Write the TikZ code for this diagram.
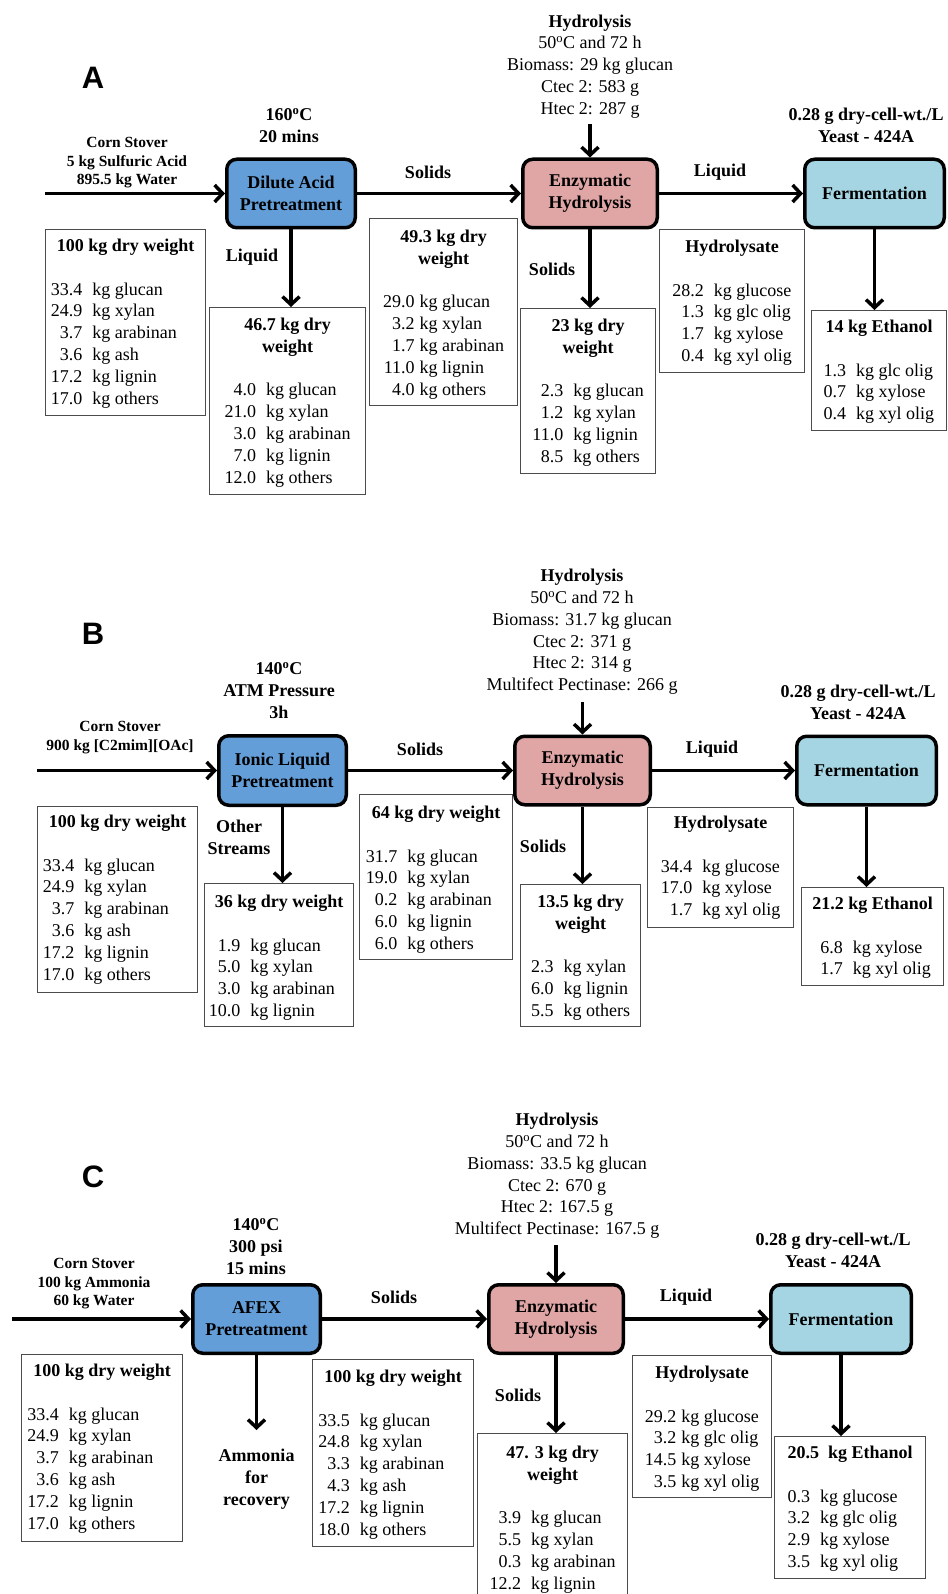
\documentclass[tikz,border=0pt]{standalone}
\usepackage{fontspec}
\setmainfont{Liberation Serif}
\setsansfont{Liberation Sans}
\usetikzlibrary{arrows.meta}
\newcommand{\myfA}{\fontsize{18pt}{21.8pt}\selectfont}
\newcommand{\myfB}{\fontsize{15.5pt}{18.5pt}\selectfont}
\newcommand{\itab}[2]{\begin{tabular}{@{}r@{\hspace{#1}}l@{}}#2\end{tabular}}
\newcommand{\hd}[1]{\multicolumn{2}{c}{\bfseries #1}}
\definecolor{dablue}{HTML}{639ED9}
\definecolor{enzpink}{HTML}{E0A5A5}
\definecolor{ferblue}{HTML}{A5D5E3}
\tikzset{
  pbox/.style={draw=black, line width=3.5pt, rounded corners=10pt, font=\bfseries\myfA, align=center, inner sep=0pt},
  panel/.style={font=\sffamily\bfseries\fontsize{31pt}{31pt}\selectfont, inner sep=0pt},
  cond/.style={font=\bfseries\myfA, align=center, inner sep=0pt, anchor=north},
  feed/.style={font=\bfseries\myfB, align=center, inner sep=0pt, anchor=north},
  hydro/.style={font=\myfA, align=center, inner sep=0pt, anchor=north},
  flow/.style={font=\bfseries\myfA, align=center, inner sep=0pt},
  ibox/.style={draw=black!70, line width=1.2pt, anchor=north west, inner sep=0pt},
  itext/.style={font=\myfA, anchor=north, inner sep=0pt},
  arr/.style={line width=3.5pt, -{Straight Barb[length=8pt,width=17pt]}}
}
\begin{document}
\begin{tikzpicture}[x=1pt,y=-1pt]
\useasboundingbox (0,0) rectangle (947,1594);
% ================= PANEL A =================
\node[panel] (labA) at (93,78) {A};
\node[cond] (condA) at (289,108) {160\textsuperscript{o}C\\20 mins};
\node[feed] (feedA) at (127,137.5) {Corn Stover\\5 kg Sulfuric Acid\\895.5 kg Water};
\node[hydro] (hydA) at (590,14.5) {\textbf{Hydrolysis}\\50\textsuperscript{o}C and 72 h\\Biomass: 29 kg glucan\\Ctec 2: 583 g\\Htec 2: 287 g};
\node[cond] (yeastA) at (866,108) {0.28 g dry-cell-wt./L\\Yeast - 424A};

\node[pbox, fill=dablue, minimum width=128.5pt, minimum height=68.5pt] (dilA) at (291,193.5) {Dilute Acid\\Pretreatment};
\node[pbox, fill=enzpink, minimum width=134.5pt, minimum height=68.5pt] (enzA) at (590,193.5) {Enzymatic\\Hydrolysis};
\node[pbox, fill=ferblue, minimum width=139.5pt, minimum height=68.5pt] (ferA) at (874.5,193.5) {Fermentation};

\coordinate (inA) at (45,193.5);
\coordinate (topA) at (590,124);
\draw[arr] (inA) -- (dilA.west);
\draw[arr] (dilA.east) -- (enzA.west);
\draw[arr] (enzA.east) -- (ferA.west);
\draw[arr] (topA) -- (enzA.north);

\node[flow] (solA) at (428,172) {Solids};
\node[flow] (liqA) at (720,172) {Liquid};
\node[flow] (liqA2) at (252,257) {Liquid};
\node[flow] (solA2) at (552,269) {Solids};

\node[ibox, minimum width=160pt, minimum height=186pt] (a-in) at (45,229) {};
\node[itext] (a-in-t) at ([yshift=-7pt]a-in.north) {\itab{10pt}{\hd{100 kg dry weight}\\ \\ 33.4 & kg glucan\\ 24.9 & kg xylan\\ 3.7 & kg arabinan\\ 3.6 & kg ash\\ 17.2 & kg lignin\\ 17.0 & kg others}};

\node[ibox, minimum width=156pt, minimum height=187pt] (a-liq) at (209,307) {};
\node[itext] (a-liq-t) at ([yshift=-8pt]a-liq.north) {\itab{10pt}{\hd{46.7 kg dry}\\ \hd{weight}\\ \\ 4.0 & kg glucan\\ 21.0 & kg xylan\\ 3.0 & kg arabinan\\ 7.0 & kg lignin\\ 12.0 & kg others}};

\node[ibox, minimum width=148pt, minimum height=187pt] (a-sol) at (369,218) {};
\node[itext] (a-sol-t) at ([yshift=-9pt]a-sol.north) {\itab{5pt}{\hd{49.3 kg dry}\\ \hd{weight}\\ \\ 29.0 & kg glucan\\ 3.2 & kg xylan\\ 1.7 & kg arabinan\\ 11.0 & kg lignin\\ 4.0 & kg others}};

\node[ibox, minimum width=135pt, minimum height=165pt] (a-sol2) at (520,308) {};
\node[itext] (a-sol2-t) at ([yshift=-8pt]a-sol2.north) {\itab{10pt}{\hd{23 kg dry}\\ \hd{weight}\\ \\ 2.3 & kg glucan\\ 1.2 & kg xylan\\ 11.0 & kg lignin\\ 8.5 & kg others}};

\node[ibox, minimum width=145pt, minimum height=143pt] (a-hyd) at (659,229) {};
\node[itext] (a-hyd-t) at ([yshift=-8pt]a-hyd.north) {\itab{10pt}{\hd{Hydrolysate}\\ \\ 28.2 & kg glucose\\ 1.3 & kg glc olig\\ 1.7 & kg xylose\\ 0.4 & kg xyl olig}};

\node[ibox, minimum width=135pt, minimum height=120pt] (a-eth) at (811,310) {};
\node[itext] (a-eth-t) at ([yshift=-7pt]a-eth.north) {\itab{10pt}{\hd{14 kg Ethanol}\\ \\ \hspace*{4pt}1.3 & kg glc olig\\ 0.7 & kg xylose\\ 0.4 & kg xyl olig}};

\draw[arr] (dilA.south) -- (dilA.south |- a-liq.north);
\draw[arr] (enzA.south) -- (enzA.south |- a-sol2.north);
\draw[arr] (ferA.south) -- (ferA.south |- a-eth.north);

% ================= PANEL B =================
\node[panel] (labB) at (93,634) {B};
\node[cond] (condB) at (279,662) {140\textsuperscript{o}C\\ATM Pressure\\3h};
\node[feed] (feedB) at (120,721.5) {Corn Stover\\900 kg [C2mim][OAc]};
\node[hydro] (hydB) at (582,569) {\textbf{Hydrolysis}\\50\textsuperscript{o}C and 72 h\\Biomass: 31.7 kg glucan\\Ctec 2: 371 g\\Htec 2: 314 g\\Multifect Pectinase: 266 g};
\node[cond] (yeastB) at (858,685) {0.28 g dry-cell-wt./L\\Yeast - 424A};

\node[pbox, fill=dablue, minimum width=127.5pt, minimum height=69.5pt] (ilB) at (282.5,770.5) {Ionic Liquid\\Pretreatment};
\node[pbox, fill=enzpink, minimum width=135.5pt, minimum height=68.5pt] (enzB) at (582.5,770.5) {Enzymatic\\Hydrolysis};
\node[pbox, fill=ferblue, minimum width=139.5pt, minimum height=68.5pt] (ferB) at (866.5,770.5) {Fermentation};

\coordinate (inB) at (37,770.5);
\coordinate (topB) at (582.5,702);
\draw[arr] (inB) -- (ilB.west);
\draw[arr] (ilB.east) -- (enzB.west);
\draw[arr] (enzB.east) -- (ferB.west);
\draw[arr] (topB) -- (enzB.north);

\node[flow] (solB) at (420,749) {Solids};
\node[flow] (liqB) at (712,749) {Liquid};
\node[flow, anchor=north] (othB) at (239,820) {Other\\Streams};
\node[flow] (solB2) at (543,846) {Solids};

\node[ibox, minimum width=160pt, minimum height=186pt] (b-in) at (37,806) {};
\node[itext] (b-in-t) at ([yshift=-6pt]b-in.north) {\itab{10pt}{\hd{100 kg dry weight}\\ \\ 33.4 & kg glucan\\ 24.9 & kg xylan\\ 3.7 & kg arabinan\\ 3.6 & kg ash\\ 17.2 & kg lignin\\ 17.0 & kg others}};

\node[ibox, minimum width=149pt, minimum height=143pt] (b-os) at (204,883) {};
\node[itext] (b-os-t) at ([yshift=-9pt]b-os.north) {\itab{10pt}{\hd{36 kg dry weight}\\ \\ 1.9 & kg glucan\\ 5.0 & kg xylan\\ 3.0 & kg arabinan\\ 10.0 & kg lignin}};

\node[ibox, minimum width=153pt, minimum height=165pt] (b-sol) at (359,794) {};
\node[itext] (b-sol-t) at ([yshift=-9pt]b-sol.north) {\itab{10pt}{\hd{64 kg dry weight}\\ \\ 31.7 & kg glucan\\ 19.0 & kg xylan\\ 0.2 & kg arabinan\\ 6.0 & kg lignin\\ 6.0 & kg others}};

\node[ibox, minimum width=120pt, minimum height=142pt] (b-sol2) at (520,884) {};
\node[itext] (b-sol2-t) at ([yshift=-8pt]b-sol2.north) {\itab{10pt}{\hd{13.5 kg dry}\\ \hd{weight}\\ \\ 2.3 & kg xylan\\ 6.0 & kg lignin\\ 5.5 & kg others}};

\node[ibox, minimum width=146pt, minimum height=120pt] (b-hyd) at (647,807) {};
\node[itext] (b-hyd-t) at ([yshift=-6pt]b-hyd.north) {\itab{10pt}{\hd{Hydrolysate}\\ \\ 34.4 & kg glucose\\ 17.0 & kg xylose\\ 1.7 & kg xyl olig}};

\node[ibox, minimum width=142pt, minimum height=98pt] (b-eth) at (801,887) {};
\node[itext] (b-eth-t) at ([yshift=-7pt]b-eth.north) {\itab{10pt}{\hd{21.2 kg Ethanol}\\ \\ \hspace*{14pt}6.8 & kg xylose\\ 1.7 & kg xyl olig}};

\draw[arr] (ilB.south) -- (ilB.south |- b-os.north);
\draw[arr] (enzB.south) -- (enzB.south |- b-sol2.north);
\draw[arr] (ferB.south) -- (ferB.south |- b-eth.north);

% ================= PANEL C =================
\node[panel] (labC) at (93,1177) {C};
\node[cond] (condC) at (256,1218) {140\textsuperscript{o}C\\300 psi\\15 mins};
\node[feed] (feedC) at (94,1258.5) {Corn Stover\\100 kg Ammonia\\60 kg Water};
\node[hydro] (hydC) at (557,1113) {\textbf{Hydrolysis}\\50\textsuperscript{o}C and 72 h\\Biomass: 33.5 kg glucan\\Ctec 2: 670 g\\Htec 2: 167.5 g\\Multifect Pectinase: 167.5 g};
\node[cond] (yeastC) at (833,1233) {0.28 g dry-cell-wt./L\\Yeast - 424A};

\node[pbox, fill=dablue, minimum width=127.5pt, minimum height=68.5pt] (afC) at (256.5,1319) {AFEX\\Pretreatment};
\node[pbox, fill=enzpink, minimum width=134.5pt, minimum height=68.5pt] (enzC) at (556,1319) {Enzymatic\\Hydrolysis};
\node[pbox, fill=ferblue, minimum width=140.5pt, minimum height=68.5pt] (ferC) at (841,1319) {Fermentation};

\coordinate (inC) at (12,1319);
\coordinate (topC) at (556,1245);
\draw[arr] (inC) -- (afC.west);
\draw[arr] (afC.east) -- (enzC.west);
\draw[arr] (enzC.east) -- (ferC.west);
\draw[arr] (topC) -- (enzC.north);

\node[flow] (solC) at (394,1297) {Solids};
\node[flow] (liqC) at (686,1297) {Liquid};
\node[flow, anchor=north] (ammC) at (256.5,1449) {Ammonia\\for\\recovery};
\node[flow] (solC2) at (518,1395) {Solids};
\draw[arr] (afC.south) -- ([yshift=19pt]ammC.north);

\node[ibox, minimum width=161pt, minimum height=187pt] (c-in) at (21,1354) {};
\node[itext] (c-in-t) at ([yshift=-7pt]c-in.north) {\itab{10pt}{\hd{100 kg dry weight}\\ \\ 33.4 & kg glucan\\ 24.9 & kg xylan\\ 3.7 & kg arabinan\\ 3.6 & kg ash\\ 17.2 & kg lignin\\ 17.0 & kg others}};

\node[ibox, minimum width=161pt, minimum height=187pt] (c-sol) at (312,1359) {};
\node[itext] (c-sol-t) at ([yshift=-8pt]c-sol.north) {\itab{10pt}{\hd{100 kg dry weight}\\ \\ 33.5 & kg glucan\\ 24.8 & kg xylan\\ 3.3 & kg arabinan\\ 4.3 & kg ash\\ 17.2 & kg lignin\\ 18.0 & kg others}};

\node[ibox, minimum width=150pt, minimum height=200pt] (c-sol2) at (477,1433) {};
\node[itext] (c-sol2-t) at ([yshift=-10pt]c-sol2.north) {\itab{10pt}{\hd{47. 3 kg dry}\\ \hd{weight}\\ \\ 3.9 & kg glucan\\ 5.5 & kg xylan\\ 0.3 & kg arabinan\\ 12.2 & kg lignin}};

\node[ibox, minimum width=139pt, minimum height=142pt] (c-hyd) at (632,1355) {};
\node[itext] (c-hyd-t) at ([yshift=-8pt]c-hyd.north) {\itab{5pt}{\hd{Hydrolysate}\\ \\ 29.2 & kg glucose\\ 3.2 & kg glc olig\\ 14.5 & kg xylose\\ 3.5 & kg xyl olig}};

\node[ibox, minimum width=151pt, minimum height=142pt] (c-eth) at (774,1436) {};
\node[itext] (c-eth-t) at ([yshift=-7pt]c-eth.north) {\itab{10pt}{\hd{20.5\ \ kg Ethanol}\\ \\ \hspace*{6pt}0.3 & kg glucose\\ 3.2 & kg glc olig\\ 2.9 & kg xylose\\ 3.5 & kg xyl olig}};

\draw[arr] (enzC.south) -- (enzC.south |- c-sol2.north);
\draw[arr] (ferC.south) -- (ferC.south |- c-eth.north);
\end{tikzpicture}
\end{document}
